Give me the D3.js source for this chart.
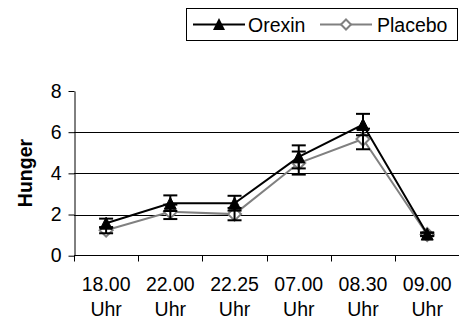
<!DOCTYPE html>
<html>
<head>
<meta charset="utf-8">
<script src="https://cdn.jsdelivr.net/npm/d3@7"></script>
<style>
  html, body { margin: 0; padding: 0; background: #fff; }
  svg { display: block; font-family: Arial, "Liberation Sans", sans-serif; }
</style>
</head>
<body>
<svg id="chart" width="459" height="320"></svg>
<script>
const categories = ["18.00 Uhr", "22.00 Uhr", "22.25 Uhr", "07.00 Uhr", "08.30 Uhr", "09.00 Uhr"];
const orexinValues = [1.58, 2.55, 2.55, 4.8, 6.37, 1.05];
const orexinErrors = [0.22, 0.38, 0.36, 0.56, 0.52, 0.08];
const placeboValues = [1.24, 2.13, 2.02, 4.5, 5.67, 1.03];
const placeboErrors = [0.15, 0.35, 0.3, 0.56, 0.5, 0.08];
const yTicks = [0, 2, 4, 6, 8];
const gridValues = [2, 4, 6];
const seriesNames = ["Orexin", "Placebo"];

const svg = d3.select("#chart");
const pLeft = 74, pRight = 459.3, pTop = 91, pBottom = 255.7;
const fs = 19.5;

const x = d3.scaleBand().domain(categories).range([pLeft, pRight]).padding(0);
const y = d3.scaleLinear().domain([0, 8]).range([pBottom, pTop]);
const cx = c => x(c) + x.bandwidth() / 2;

// gridlines
svg.append("g").selectAll("line").data(gridValues).join("line")
  .attr("x1", pLeft).attr("x2", pRight)
  .attr("y1", d => Math.round(y(d)) + 0.5).attr("y2", d => Math.round(y(d)) + 0.5)
  .attr("stroke", "#000").attr("stroke-width", 1);

// y axis
const yAxis = svg.append("g").attr("transform", `translate(${pLeft + 0.5},0)`)
  .call(d3.axisLeft(y).tickValues(yTicks).tickSize(6).tickPadding(7).tickSizeOuter(0));
yAxis.select(".domain").attr("stroke", "#000");
yAxis.selectAll(".tick line").attr("stroke", "#000");
yAxis.selectAll(".tick text").attr("font-size", fs).attr("fill", "#000")
  .attr("font-family", "Arial, 'Liberation Sans', sans-serif");

// x axis
const xg = svg.append("g").attr("transform", `translate(0,${Math.round(pBottom) - 0.5})`);
xg.append("line").attr("x1", pLeft).attr("x2", pRight).attr("y1", 0).attr("y2", 0).attr("stroke", "#000");
xg.selectAll("line.tk").data(categories).join("line").attr("class", "tk")
  .attr("x1", d => Math.round(x(d)) + 0.5).attr("x2", d => Math.round(x(d)) + 0.5)
  .attr("y1", 0).attr("y2", 6).attr("stroke", "#000");
const lbl = xg.selectAll("text").data(categories).join("text")
  .attr("text-anchor", "middle").attr("font-size", fs).attr("fill", "#000")
  .attr("transform", d => `translate(${cx(d)},0)`);
lbl.append("tspan").attr("x", 0).attr("y", 35.5).text(d => d.split(" ")[0]);
lbl.append("tspan").attr("x", 0).attr("y", 60).text(d => d.split(" ")[1]);

// y title
svg.append("text").attr("transform", "translate(25,173) rotate(-90)")
  .attr("text-anchor", "middle").attr("dominant-baseline", "central")
  .attr("font-size", fs).attr("font-weight", "bold").text("Hunger");

const line = d3.line().x((d, i) => cx(categories[i])).y(d => y(d));
const triPath = (w, h) => `M0,${-h / 2}L${w / 2},${h / 2}L${-w / 2},${h / 2}Z`;
const diaPath = r => `M0,${-r}L${r},0L0,${r}L${-r},0Z`;

// placebo series
svg.append("path").datum(placeboValues).attr("d", line)
  .attr("fill", "none").attr("stroke", "#808080").attr("stroke-width", 2);
svg.append("g").selectAll("path").data(placeboValues).join("path")
  .attr("d", diaPath(6.5))
  .attr("transform", (d, i) => `translate(${cx(categories[i])},${y(d)})`)
  .attr("fill", "#fff").attr("stroke", "#808080").attr("stroke-width", 2);

// orexin series
svg.append("path").datum(orexinValues).attr("d", line)
  .attr("fill", "none").attr("stroke", "#000").attr("stroke-width", 2);
svg.append("g").selectAll("path").data(orexinValues).join("path")
  .attr("d", triPath(12, 12))
  .attr("transform", (d, i) => `translate(${cx(categories[i])},${y(d)})`)
  .attr("fill", "#000").attr("stroke", "#000").attr("stroke-width", 1);

// error bars
function errorBars(vals, errs) {
  const g = svg.append("g").attr("stroke", "#000").attr("stroke-width", 2);
  vals.forEach((v, i) => {
    const px = cx(categories[i]);
    const y0 = y(v - errs[i]), y1 = y(v + errs[i]);
    g.append("line").attr("x1", px).attr("x2", px).attr("y1", y0).attr("y2", y1);
    g.append("line").attr("x1", px - 7).attr("x2", px + 7).attr("y1", y0).attr("y2", y0);
    g.append("line").attr("x1", px - 7).attr("x2", px + 7).attr("y1", y1).attr("y2", y1);
  });
}
errorBars(placeboValues, placeboErrors);
errorBars(orexinValues, orexinErrors);

// legend
const lg = svg.append("g");
lg.append("rect").attr("x", 186.5).attr("y", 8.5).attr("width", 271).attr("height", 32)
  .attr("fill", "#fff").attr("stroke", "#000").attr("stroke-width", 1);
lg.append("line").attr("x1", 193).attr("x2", 245).attr("y1", 24.5).attr("y2", 24.5)
  .attr("stroke", "#000").attr("stroke-width", 2);
lg.append("path").attr("d", triPath(12, 12)).attr("transform", "translate(219,24)").attr("fill", "#000");
lg.append("text").attr("x", 248).attr("y", 31.5).attr("font-size", fs).text(seriesNames[0]);
lg.append("line").attr("x1", 320).attr("x2", 372).attr("y1", 24.5).attr("y2", 24.5)
  .attr("stroke", "#808080").attr("stroke-width", 2);
lg.append("path").attr("d", diaPath(5)).attr("transform", "translate(346,24.5)")
  .attr("fill", "#fff").attr("stroke", "#808080").attr("stroke-width", 2);
lg.append("text").attr("x", 377).attr("y", 31.5).attr("font-size", fs).text(seriesNames[1]);
</script>
</body>
</html>
